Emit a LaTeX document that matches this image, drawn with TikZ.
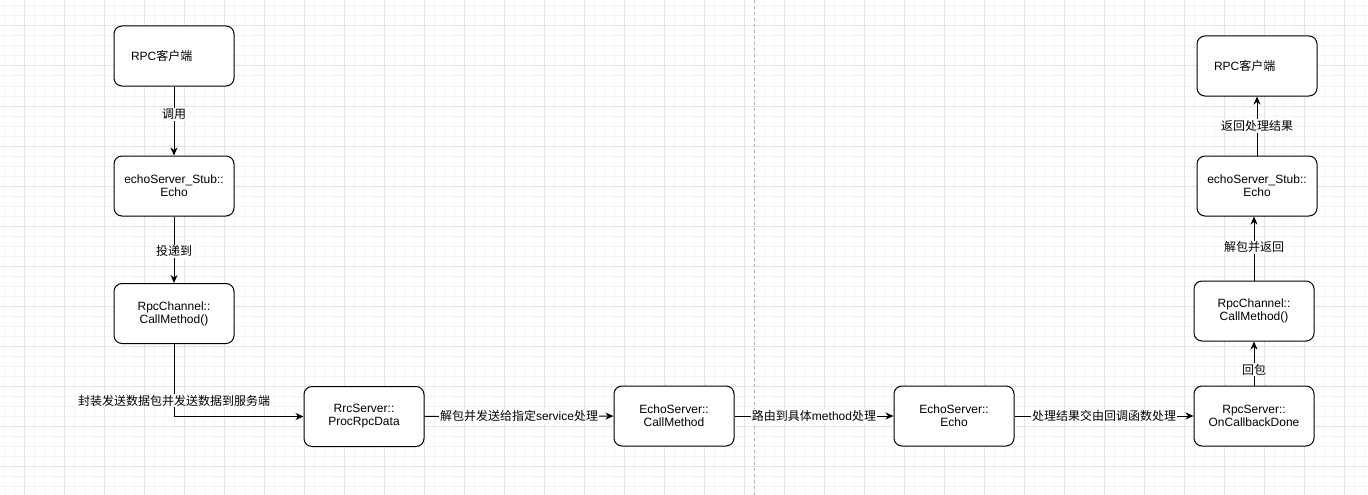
\documentclass[tikz,border=0pt]{standalone}
\usepackage{fontspec}
\setmainfont{Liberation Sans}
\newfontfamily\cjk{Noto Sans CJK SC}
\newcommand\zh[1]{{\cjk #1}}
\usetikzlibrary{arrows.meta,positioning}
\definecolor{gridmin}{HTML}{F4F4F4}
\definecolor{gridmaj}{HTML}{E4E4E4}
\tikzset{
  box/.style  ={draw=black, line width=1pt, rounded corners=8pt, fill=white,
                minimum width=120pt, minimum height=60pt, align=center,
                inner sep=2pt, font=\fontsize{12}{13}\selectfont},
  cbox/.style ={box, align=left, text width=86pt},
  lbl/.style  ={fill=white, inner sep=1pt, font=\fontsize{12}{13}\selectfont},
  ar/.style   ={-{Stealth[length=8pt,width=7pt,inset=2.5pt]}, line width=1pt},
  divline/.style={draw=black!30, line width=0.8pt, dash pattern=on 3pt off 3pt},
}
\begin{document}
\begin{tikzpicture}[x=1pt,y=-1pt]
\useasboundingbox (0,0) rectangle (1368,495);
% grid
\foreach \x in {4,14,...,1364} \draw[gridmin, line width=1pt] (\x,0) -- (\x,495);
\foreach \y in {6,16,...,495} \draw[gridmin, line width=1pt] (0,\y) -- (1368,\y);
\foreach \x in {24,64,...,1364} \draw[gridmaj, line width=1pt] (\x,0) -- (\x,495);
\foreach \y in {26,66,...,495} \draw[gridmaj, line width=1pt] (0,\y) -- (1368,\y);
\coordinate (divtop) at (754,0);
\coordinate (divbot) at (754,495);
\draw[divline] (divtop) -- (divbot);
% client side
\node[cbox] (cli)  at (174,56)    {RPC\zh{客户端}};
\node[box]  (stub) at (174,186)   {echoServer\_Stub::\\Echo};
\node[box]  (chan) at (174,313.5) {RpcChannel::\\CallMethod()};
% server side
\node[box]  (proc) at (364,416.5) {RrcServer::\\ProcRpcData};
\node[box]  (call) at (674,416)   {EchoServer::\\CallMethod};
\node[box]  (echo) at (954,416)   {EchoServer::\\Echo};
\node[box]  (done) at (1254,416)  {RpcServer::\\OnCallbackDone};
% return path
\node[box]  (chanr) at (1254,311) {RpcChannel::\\CallMethod()};
\node[box]  (stubr) at (1257,186) {echoServer\_Stub::\\Echo};
\node[cbox] (clir)  at (1257,66)  {RPC\zh{客户端}};
\draw[ar] (cli) -- node[lbl,pos=0.4] {\zh{调用}} (stub);
\draw[ar] (stub) -- node[lbl,pos=0.52] {\zh{投递到}} (chan);
\draw[ar] (chan) |- node[lbl,pos=0.39] {\zh{封装发送数据包并发送数据到服务端}} (proc);
\draw[ar] (proc) -- node[lbl] {\zh{解包并发送给指定}service\zh{处理}} (call);
\draw[ar] (call) -- node[lbl] {\zh{路由到具体}method\zh{处理}} (echo);
\draw[ar] (echo) -- node[lbl] {\zh{处理结果交由回调函数处理}} (done);
\draw[ar] (done) -- node[lbl,pos=0.36] {\zh{回包}} (chanr);
\draw[ar] (chanr.north) -- node[lbl,pos=0.52] {\zh{解包并返回}} (chanr.north |- stubr.south);
\draw[ar] (stubr) -- node[lbl] {\zh{返回处理结果}} (clir);
\end{tikzpicture}
\end{document}
